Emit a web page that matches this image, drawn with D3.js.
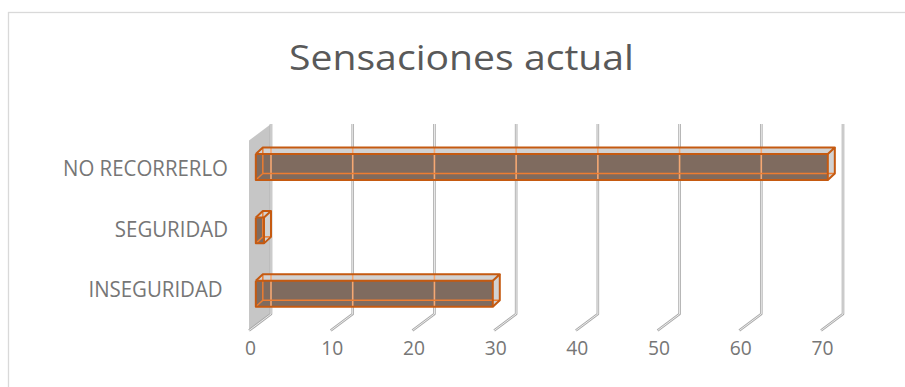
<!DOCTYPE html>
<html><head><meta charset="utf-8">
<script src="https://cdn.jsdelivr.net/npm/d3@7"></script>
<style>
html,body{margin:0;padding:0;background:#fff;}
svg{display:block;}
text{font-family:"Open Sans","Noto Sans",sans-serif;}
</style></head>
<body>
<svg id="chart" width="905" height="387"></svg>
<script>
// ---- data ----
const title = "Sensaciones actual";
const categories = ["NO RECORRERLO", "SEGURIDAD", "INSEGURIDAD "];
const values = [70, 1, 29];
const tickValues = [0, 10, 20, 30, 40, 50, 60, 70];

const svg = d3.select("#chart");

// chart border
svg.append("rect").attr("x", 8.5).attr("y", 12.5).attr("width", 920).attr("height", 400)
  .attr("fill", "#fff").attr("stroke", "#d9d9d9").attr("stroke-width", 1.3);

// back-wall scales
const x = d3.scaleLinear().domain([0, 70]).range([271, 843]);
const y = d3.scaleBand().domain(categories).range([124, 314]).paddingInner(0.59).paddingOuter(0.295);
const yLabel = d3.scaleBand().domain(categories).range([138, 320]);
const D = [-22, 16.5];          // depth vector (back wall -> front of floor)
const fFront = 0.69;            // depth fraction of bar front plane
const barDepth = [7, -6.5];     // front -> back offset of bar
const wallTop = 124, wallBot = 314;

// side wall
svg.append("polygon")
  .attr("points", [[x(0), wallTop], [x(0) + D[0], wallTop + D[1]], [x(0) + D[0], wallBot + D[1]], [x(0), wallBot]].map(p => p.join(",")).join(" "))
  .attr("fill", "#c6c6c6");

// gridlines (back wall + floor)
const grid = svg.append("g");
tickValues.forEach(v => {
  const pts = [[x(v), wallTop], [x(v), wallBot], [x(v) + D[0], wallBot + D[1]]];
  const line = d3.line();
  grid.append("path").attr("d", line(pts)).attr("fill", "none")
    .attr("stroke", "#a9a9a9").attr("stroke-width", 2.6).attr("stroke-linejoin", "round");
  grid.append("path").attr("d", line(pts)).attr("fill", "none")
    .attr("stroke", "#f4f4f4").attr("stroke-width", 0.9).attr("stroke-linejoin", "round");
});

// bars
const bars = svg.append("g");
const defs = svg.append("defs");
categories.forEach((c, i) => {
  const v = values[i];
  const xf0 = x(0) + fFront * D[0], xf1 = x(v) + fFront * D[0];
  const yf0 = y(c) + fFront * D[1], yf1 = y(c) + y.bandwidth() + fFront * D[1];
  const xb0 = xf0 + barDepth[0], xb1 = xf1 + barDepth[0];
  const yb0 = yf0 + barDepth[1], yb1 = yf1 + barDepth[1];
  const P = a => a.map(p => p.join(",")).join(" ");
  const g = bars.append("g");
  const sil = [[xf0, yf0], [xb0, yb0], [xb1, yb0], [xb1, yb1], [xf1, yf1], [xf0, yf1]];
  defs.append("clipPath").attr("id", "clip" + i).append("polygon").attr("points", P(sil));
  // faces
  g.append("rect").attr("x", xf0).attr("y", yf0).attr("width", xf1 - xf0).attr("height", yf1 - yf0)
    .attr("fill", "#7f6b5f");
  g.append("polygon").attr("points", P([[xf0, yf0], [xb0, yb0], [xb1, yb0], [xf1, yf0]])).attr("fill", "#d2d2d2");
  g.append("polygon").attr("points", P([[xf1, yf0], [xb1, yb0], [xb1, yb1], [xf1, yf1]])).attr("fill", "#d2d2d2");
  // gridlines seen through the transparent bar
  const cg = g.append("g").attr("clip-path", `url(#clip${i})`);
  tickValues.forEach(t => {
    cg.append("line").attr("x1", x(t)).attr("x2", x(t)).attr("y1", wallTop).attr("y2", wallBot)
      .attr("stroke", "#f5a873").attr("stroke-width", 1.6);
  });
  // hidden back edges
  const hidden = [[[xb0, yb0], [xb0, yb1]], [[xb0, yb1], [xb1, yb1]], [[xf0, yf1], [xb0, yb1]]];
  hidden.forEach(s => g.append("path").attr("d", d3.line()(s)).attr("stroke", "#ed7d31")
    .attr("stroke-width", 1.5).attr("fill", "none"));
  // visible outline
  const edges = [
    [[xf0, yf0], [xf1, yf0], [xf1, yf1], [xf0, yf1], [xf0, yf0]],
    [[xf0, yf0], [xb0, yb0], [xb1, yb0], [xf1, yf0]],
    [[xb1, yb0], [xb1, yb1], [xf1, yf1]]
  ];
  edges.forEach(s => g.append("path").attr("d", d3.line()(s)).attr("stroke", "#c55a11")
    .attr("stroke-width", 2).attr("fill", "none").attr("stroke-linejoin", "round"));
});

// measure natural text width at a font size
function measure(text, size) {
  const t = svg.append("text").attr("font-size", size).style("white-space", "pre").text(text);
  const w = t.node().getComputedTextLength();
  t.remove();
  return w;
}

// title (condensed to match the narrow original face)
const titleFs = 34;
svg.append("text").attr("x", 461.5).attr("y", 69.5).attr("text-anchor", "middle")
  .attr("font-size", titleFs).attr("fill", "#595959")
  .attr("textLength", 345).attr("lengthAdjust", "spacingAndGlyphs").text(title);

// category labels
const catFs = 21;
const catK = 165 / measure(categories[0], catFs);
svg.append("g").selectAll("text").data(categories).join("text")
  .attr("x", 228).attr("y", d => yLabel(d) + yLabel.bandwidth() / 2 + 7.5)
  .attr("text-anchor", "end").style("white-space", "pre")
  .attr("font-size", catFs).attr("fill", "#767676")
  .attr("textLength", d => measure(d, catFs) * catK).attr("lengthAdjust", "spacingAndGlyphs")
  .text(d => d);

// tick labels
const tickFs = 20;
const tickK = 22 / measure("10", tickFs);
svg.append("g").selectAll("text").data(tickValues).join("text")
  .attr("x", d => x(d) + D[0] + 1.5).attr("y", 355).attr("text-anchor", "middle")
  .attr("font-size", tickFs).attr("fill", "#767676")
  .attr("textLength", d => measure(String(d), tickFs) * tickK).attr("lengthAdjust", "spacingAndGlyphs")
  .text(d => d);
</script>
</body></html>
